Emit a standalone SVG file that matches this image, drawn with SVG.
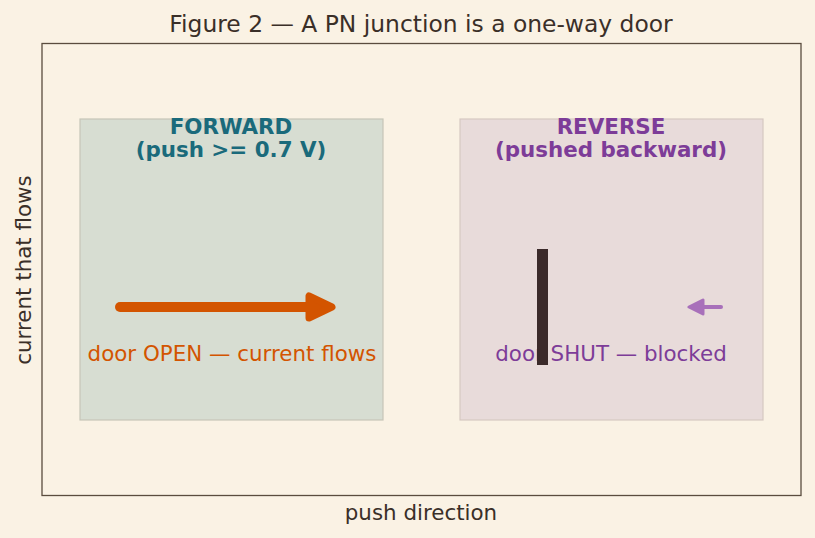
<svg xmlns="http://www.w3.org/2000/svg" width="815" height="538" viewBox="0 0 815 538">
<style>
text{font-family:"DejaVu Sans","Liberation Sans",sans-serif;}
.t{font-size:23.4px;fill:#3a2f28;text-anchor:middle;}
.ax{font-size:21.4px;fill:#3a2f28;text-anchor:middle;}
.h{font-size:21.4px;font-weight:bold;text-anchor:middle;}
.l{font-size:21.4px;text-anchor:middle;}
</style>
<rect x="0" y="0" width="815" height="538" fill="#faf2e4"/>
<text class="t" x="421" y="32">Figure 2 — A PN junction is a one-way door</text>
<rect x="42" y="43.5" width="759" height="452" fill="none" stroke="#5a4c3e" stroke-width="1.3"/>
<text class="ax" x="421" y="520">push direction</text>
<text class="ax" transform="translate(31,270) rotate(-90)">current that flows</text>
<g id="forward">
<rect x="80" y="119" width="303" height="301" fill="#d7ddd2" stroke="#c6c5b8" stroke-width="1.2"/>
<text class="h" x="231" y="134" fill="#1a6a7b">FORWARD</text>
<text class="h" x="231" y="157" fill="#1a6a7b">(push &gt;= 0.7 V)</text>
<text class="l" x="232" y="361" fill="#d35400">door OPEN — current flows</text>
</g>
<g id="reverse">
<rect x="460" y="119" width="303" height="301" fill="#e8dbda" stroke="#d6c8c2" stroke-width="1.2"/>
<text class="h" x="611" y="134" fill="#7d3c98">REVERSE</text>
<text class="h" x="611" y="157" fill="#7d3c98">(pushed backward)</text>
<text class="l" x="611" y="361" fill="#7d3c98">door SHUT — blocked</text>
<rect id="door" x="537" y="249" width="11" height="116" fill="#3b2a2a"/>
</g>
<g id="connectors">
<line x1="120" y1="307" x2="312" y2="307" stroke="#d35400" stroke-width="10" stroke-linecap="round"/>
<polygon points="309,296 309,318 332,307" fill="#d35400" stroke="#d35400" stroke-width="7" stroke-linejoin="round"/>
<g opacity="0.7">
<line x1="721" y1="307" x2="702" y2="307" stroke="#8e44ad" stroke-width="4" stroke-linecap="round"/>
<polygon points="703,300 703,314 689,307" fill="#8e44ad" stroke="#8e44ad" stroke-width="3" stroke-linejoin="round"/>
</g>
</g>
</svg>
